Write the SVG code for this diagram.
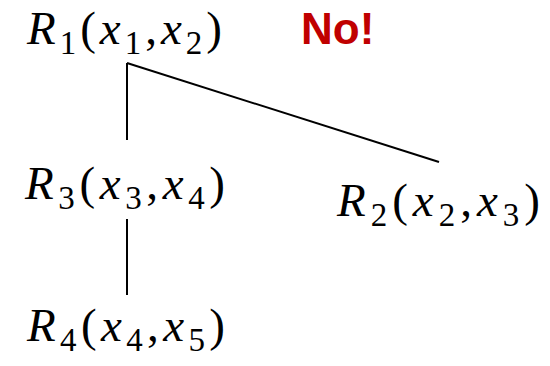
<svg xmlns="http://www.w3.org/2000/svg" width="550" height="366" viewBox="0 0 550 366">
<style>
.m{font-family:"Liberation Serif","DejaVu Serif",serif;font-size:47px;fill:#000}
.i{font-style:italic}
.s{font-size:33px}
.no{font-family:"Liberation Sans",Arial,sans-serif;font-weight:bold;font-size:44px;fill:#C00000}
.e{stroke:#000;stroke-width:2;fill:none}
</style>
<rect width="550" height="366" fill="#fff"/>
<g id="connectors">
<line class="e" x1="127" y1="63" x2="127" y2="140"/>
<line class="e" x1="127" y1="63" x2="439" y2="162"/>
<line class="e" x1="127" y1="219" x2="127" y2="295"/>
</g>
<g id="R1">
<text class="m" x="27" y="44" textLength="195"><tspan class="i">R</tspan><tspan class="s" dy="10">1</tspan><tspan dy="-10">(</tspan><tspan class="i">x</tspan><tspan class="s" dy="10">1</tspan><tspan dy="-10">,</tspan><tspan class="i">x</tspan><tspan class="s" dy="10">2</tspan><tspan dy="-10">)</tspan></text>
</g>
<g id="No">
<text class="no" x="301" y="44">No!</text>
</g>
<g id="R3">
<text class="m" x="25" y="199" textLength="200"><tspan class="i">R</tspan><tspan class="s" dy="10">3</tspan><tspan dy="-10">(</tspan><tspan class="i">x</tspan><tspan class="s" dy="10">3</tspan><tspan dy="-10">,</tspan><tspan class="i">x</tspan><tspan class="s" dy="10">4</tspan><tspan dy="-10">)</tspan></text>
</g>
<g id="R2">
<text class="m" x="337" y="216" textLength="203"><tspan class="i">R</tspan><tspan class="s" dy="10">2</tspan><tspan dy="-10">(</tspan><tspan class="i">x</tspan><tspan class="s" dy="10">2</tspan><tspan dy="-10">,</tspan><tspan class="i">x</tspan><tspan class="s" dy="10">3</tspan><tspan dy="-10">)</tspan></text>
</g>
<g id="R4">
<text class="m" x="27" y="341" textLength="198"><tspan class="i">R</tspan><tspan class="s" dy="10">4</tspan><tspan dy="-10">(</tspan><tspan class="i">x</tspan><tspan class="s" dy="10">4</tspan><tspan dy="-10">,</tspan><tspan class="i">x</tspan><tspan class="s" dy="10">5</tspan><tspan dy="-10">)</tspan></text>
</g>
</svg>
